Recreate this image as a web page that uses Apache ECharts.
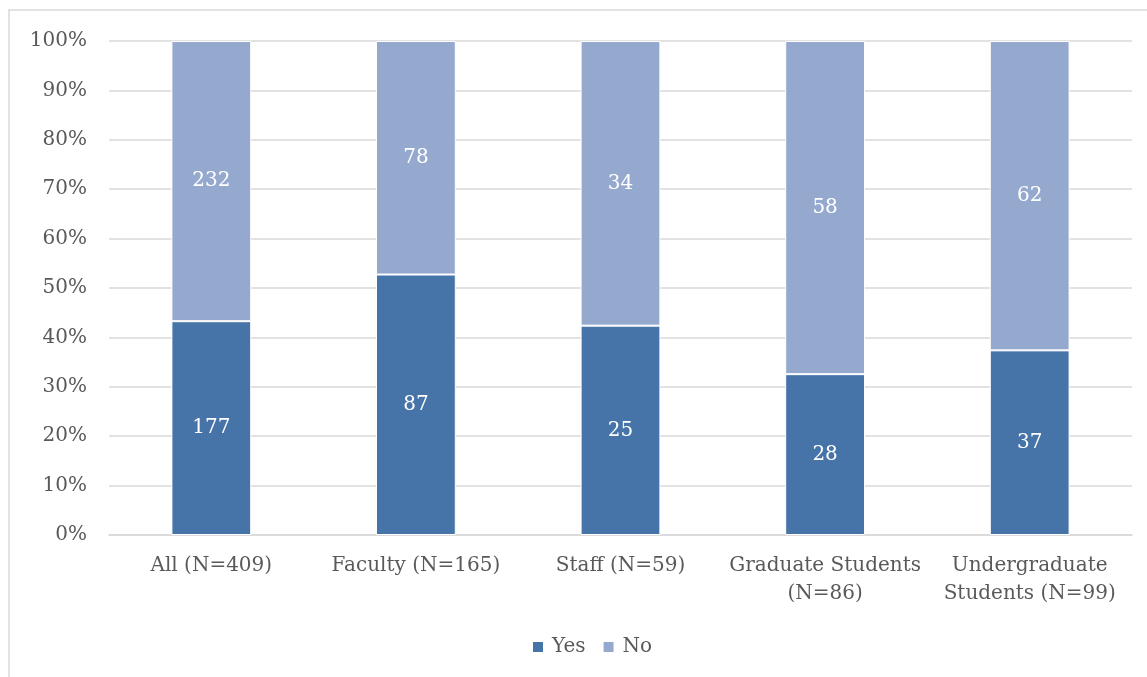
<!DOCTYPE html>
<html>
<head>
<meta charset="utf-8">
<script src="https://cdn.jsdelivr.net/npm/echarts@6/dist/echarts.min.js"></script>
<style>
  html, body { margin: 0; padding: 0; background: #fff; }
  #grafica { width: 1147px; height: 677px; }
</style>
</head>
<body>
<div id="grafica"></div>
<script>
var categorias = ['All (N=409)', 'Faculty (N=165)', 'Staff (N=59)', 'Graduate Students\n(N=86)', 'Undergraduate\nStudents (N=99)']
var valoresYes = [177, 87, 25, 28, 37]
var valoresNo = [232, 78, 34, 58, 62]
var leyenda = ['Yes', 'No']
var colores = ['#4673A8', '#95A9CF']

// porcentajes a partir de los conteos
function porcentaje(valores) {
    return valores.map(function (v, i) {
        var total = valoresYes[i] + valoresNo[i]
        return { value: v / total * 100, cuenta: v }
    })
}

var fuente = 'DejaVu Serif'
var myChart = echarts.init(document.getElementById('grafica'))

var serie = function (nombre, datos) {
    return {
        name: nombre,
        type: 'bar',
        stack: 'total',
        barWidth: '39%',
        data: datos,
        itemStyle: { borderColor: '#ffffff', borderWidth: 1 },
        label: {
            show: true,
            position: 'inside',
            color: '#ffffff',
            fontFamily: fuente,
            fontSize: 20,
            formatter: function (p) { return p.data.cuenta }
        }
    }
}

var option = {
    animation: false,
    color: colores,
    graphic: [{
        type: 'rect',
        shape: { x: 9, y: 10, width: 1200, height: 1000 },
        style: { fill: 'none', stroke: '#d9d9d9', lineWidth: 1.5 },
        silent: true
    }],
    grid: { left: 109, right: 15, top: 41, bottom: 142 },
    legend: {
        data: leyenda,
        bottom: 15,
        left: 526,
        itemWidth: 12,
        itemHeight: 12,
        itemGap: 16,
        icon: 'rect',
        textStyle: { fontFamily: fuente, fontSize: 20, color: '#595959', padding: [0, 0, 0, 3] }
    },
    xAxis: {
        type: 'category',
        data: categorias,
        axisLine: { lineStyle: { color: '#d9d9d9', width: 1.5 } },
        axisTick: { show: false },
        axisLabel: {
            fontFamily: fuente,
            fontSize: 20,
            color: '#595959',
            lineHeight: 28,
            margin: 17,
            interval: 0
        }
    },
    yAxis: {
        type: 'value',
        min: 0,
        max: 100,
        interval: 10,
        axisLine: { show: false },
        axisTick: { show: false },
        splitLine: { lineStyle: { color: '#d9d9d9', width: 1.5 } },
        axisLabel: {
            fontFamily: fuente,
            fontSize: 20,
            color: '#595959',
            margin: 22,
            formatter: '{value}%'
        }
    },
    series: [serie('Yes', porcentaje(valoresYes)), serie('No', porcentaje(valoresNo))]
}
myChart.setOption(option)
</script>
</body>
</html>
